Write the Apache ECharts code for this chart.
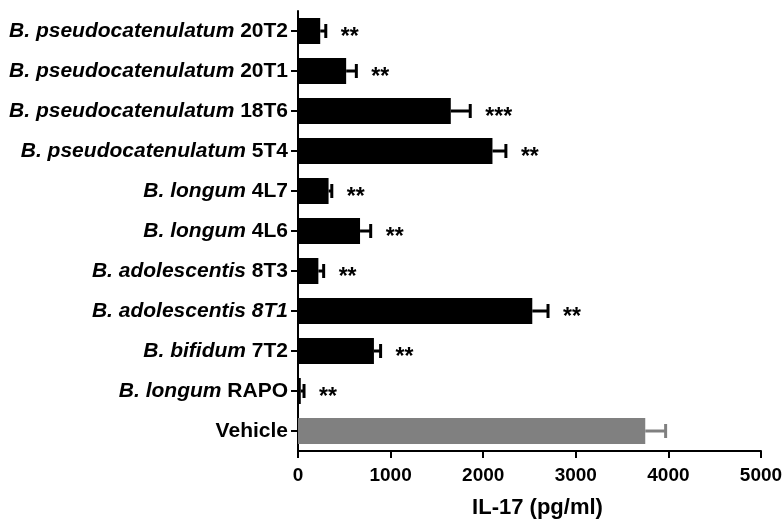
<!DOCTYPE html>
<html>
<head>
<meta charset="utf-8">
<script src="https://cdn.jsdelivr.net/npm/echarts@6/dist/echarts.min.js"></script>
<style>
  html, body { margin: 0; padding: 0; background: #fff; }
  #main { width: 783px; height: 520px; }
</style>
</head>
<body>
<div id="main"></div>
<script>
// strains, top to bottom as drawn
var species = ['B. pseudocatenulatum', 'B. pseudocatenulatum', 'B. pseudocatenulatum', 'B. pseudocatenulatum',
               'B. longum', 'B. longum', 'B. adolescentis', 'B. adolescentis', 'B. bifidum', 'B. longum', ''];
var strains = ['20T2', '20T1', '18T6', '5T4', '4L7', '4L6', '8T3', '8T1', '7T2', 'RAPO', 'Vehicle'];
// IL-17 mean (pg/ml) and error (upper SEM)
var means  = [240, 520, 1650, 2100, 330, 670, 220, 2530, 820, 30, 3750];
var errs   = [60, 110, 210, 145, 35, 115, 57, 170, 72, 35, 220];
var stars  = ['**', '**', '***', '**', '**', '**', '**', '**', '**', '**', ''];
var xTicks = [0, 1000, 2000, 3000, 4000, 5000];

var FONT = 'Liberation Sans, Arial, sans-serif';
var barColor = function (i) { return strains[i] === 'Vehicle' ? '#808080' : '#000000'; };

var catLabels = [];
for (var i = 0; i < strains.length; i++) {
	catLabels.push(i);
}

var barData = [], errData = [];
for (var i = 0; i < means.length; i++) {
	barData.push({ value: means[i], itemStyle: { color: barColor(i) } });
	errData.push([means[i], i, errs[i]]);
}

var myChart = echarts.init(document.getElementById('main'));

var option = {
	animation: false,
	grid: { left: 298, right: 22, top: 11, bottom: 69, containLabel: false, outerBoundsMode: 'none' },
	xAxis: {
		type: 'value',
		min: xTicks[0],
		max: xTicks[xTicks.length - 1],
		interval: 1000,
		name: 'IL-17 (pg/ml)',
		nameLocation: 'middle',
		nameGap: 46,
		nameTextStyle: { fontFamily: FONT, fontWeight: 'bold', fontSize: 22, color: '#000', padding: [0, 0, 0, 16] },
		axisLine: { show: true, lineStyle: { color: '#000', width: 2 } },
		axisTick: { show: true, length: 7, lineStyle: { color: '#000', width: 2 } },
		axisLabel: {
			fontFamily: FONT, fontWeight: 'bold', fontSize: 19, color: '#000', margin: 15,
			formatter: function (v) { return String(v); }
		},
		splitLine: { show: false }
	},
	yAxis: {
		type: 'category',
		inverse: true,
		data: catLabels,
		axisLine: { show: true, lineStyle: { color: '#000', width: 2 } },
		axisTick: { show: true, alignWithLabel: true, length: 7, lineStyle: { color: '#000', width: 2 } },
		axisLabel: {
			margin: 10,
			color: '#000',
			formatter: function (v) {
				var i = +v;
				if (!species[i]) return '{b|' + strains[i] + '}';
				if (strains[i] === '8T1') return '{i|' + species[i] + ' ' + strains[i] + '}';
				return '{i|' + species[i] + ' }{b|' + strains[i] + '}';
			},
			rich: {
				i: { fontFamily: FONT, fontWeight: 'bold', fontStyle: 'italic', fontSize: 21, color: '#000' },
				b: { fontFamily: FONT, fontWeight: 'bold', fontSize: 21, color: '#000' }
			}
		}
	},
	series: [
		{
			name: 'IL-17',
			type: 'bar',
			barWidth: 26,
			data: barData
		},
		{
			name: 'err',
			type: 'custom',
			encode: { x: 0, y: 1 },
			data: errData,
			z: 3,
			renderItem: function (params, api) {
				var idx = api.value(1);
				var p0 = api.coord([api.value(0), idx]);
				var p1 = api.coord([api.value(0) + api.value(2), idx]);
				var col = barColor(params.dataIndex);
				var style = { stroke: col, lineWidth: 3 };
				var children = [
					{ type: 'line', shape: { x1: p0[0], y1: p0[1], x2: p1[0], y2: p1[1] }, style: style },
					{ type: 'line', shape: { x1: p1[0], y1: p1[1] - 7, x2: p1[0], y2: p1[1] + 7 }, style: style }
				];
				var s = stars[params.dataIndex];
				if (s) {
					children.push({
						type: 'text',
						style: {
							text: s, x: p1[0] + 15, y: p1[1] + 7,
							align: 'left', verticalAlign: 'middle',
							font: 'bold 23px ' + FONT, fill: '#000'
						}
					});
				}
				return { type: 'group', children: children };
			}
		}
	]
};
myChart.setOption(option);
</script>
</body>
</html>
